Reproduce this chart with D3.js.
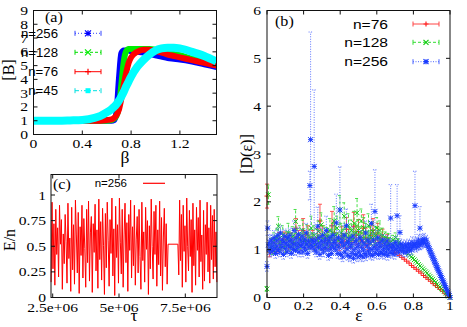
<!DOCTYPE html>
<html>
<head>
<meta charset="utf-8">
<script src="https://cdn.jsdelivr.net/npm/d3@7"></script>
<style>
body { margin: 0; background: #fff; }
</style>
</head>
<body>
<svg id="viz" width="467" height="327"></svg>
<script>
// ---------- panel (a): [B] vs beta ----------
let beta = [0, 0.1, 0.2, 0.3, 0.4, 0.5, 0.55, 0.6, 0.64, 0.66, 0.68, 0.7, 0.72, 0.74, 0.76, 0.78, 0.8, 0.85, 0.9, 0.95, 1.0, 1.05, 1.1, 1.15, 1.2, 1.3, 1.4, 1.5];
let B_256 = [1, 1, 1, 1, 1, 1, 1, 1, 1, 1.05, 1.6, 4.0, 5.9, 6.1, 6.1, 6.1, 6.05, 6.0, 5.95, 5.85, 5.75, 5.65, 5.55, 5.5, 5.45, 5.3, 5.1, 4.9];
let B_128 = [1, 1, 1, 1, 1, 1, 1, 1, 1.05, 1.15, 1.35, 2.0, 3.6, 5.3, 6.05, 6.2, 6.2, 6.2, 6.2, 6.2, 6.15, 6.05, 5.95, 5.85, 5.75, 5.5, 5.3, 5.05];
let B_76 = [1, 1, 1, 1, 1, 1, 1, 1.05, 1.1, 1.2, 1.4, 1.8, 2.6, 3.6, 4.5, 5.2, 5.6, 6.0, 6.15, 6.15, 6.05, 5.95, 5.8, 5.7, 5.6, 5.4, 5.2, 5.0];
let B_45 = [1, 1, 1, 1.02, 1.05, 1.2, 1.35, 1.6, 1.85, 2.0, 2.2, 2.45, 2.75, 3.1, 3.5, 3.85, 4.2, 4.9, 5.4, 5.8, 6.1, 6.25, 6.3, 6.3, 6.25, 6.0, 5.7, 5.3];
let a_xticks = [0, 0.4, 0.8, 1.2];
let a_yticks = [0, 1, 2, 3, 4, 5, 6, 7, 8, 9];

// ---------- panel (b): [D(eps)] vs eps, points at k/n ----------
let D_76 = [2.12, 0.95,
    1.08, 1.12, 1.05, 1.18, 1.1, 1.22, 1.15, 1.08, 1.2, 1.12,
    1.45, 1.25, 1.1, 1.4, 1.18, 1.3, 1.15, 1.22, 1.08, 1.25,
    1.6, 1.3, 1.15, 1.2, 1.12, 1.5, 1.35, 1.2, 1.1, 1.28,
    1.18, 1.42, 1.25, 1.15, 1.48, 1.3, 1.38, 1.2, 1.45, 1.25,
    1.12, 1.3, 1.4, 1.2, 1.35, 1.18, 1.25, 1.15, 1.2, 1.1,
    1.05,
    .97, .93, .88, .84, .80, .76, .72, .67, .63, .59, .55, .51,
    .46, .42, .38, .34, .29, .25, .21, .17, .13, .08, .04, 0];
let D_76_err = [.25, .1,
    .15, .12, .1, .18, .12, .15, .2, .1, .15, .12,
    .2, .15, .12, .25, .15, .2, .12, .18, .1, .2,
    .35, .2, .15, .18, .12, .3, .22, .15, .12, .2,
    .15, .25, .18, .12, .3, .2, .25, .15, .28, .2,
    .12, .2, .25, .15, .2, .12, .18, .1, .12, .08,
    .06,
    .05, .04, .04, .04, .03, .03, .03, .03, .03, .03, .03, .03,
    .03, .03, .03, .03, .03, .03, .03, .03, .03, .03, .03, 0];
let D_128 = [0.18, 2.15, 1.05, 1.12, 1.0, 1.2, 1.1, 1.25, 1.49, 1.15, 1.08, 1.3, 1.18, 1.05, 1.22, 1.35,
    1.1, 1.2, 1.28, 1.15, 1.59, 1.25, 1.12, 1.3, 1.18, 1.4, 1.2, 1.1, 1.32, 1.15, 1.25, 1.45,
    1.2, 1.3, 1.1, 1.25, 1.38, 1.15, 1.52, 1.22, 1.3, 1.12, 1.28, 1.2, 1.4, 1.25, 1.35, 1.6,
    1.3, 1.45, 1.2, 1.83, 1.35, 1.25, 1.7, 1.3, 1.18, 1.5, 1.28, 1.4, 1.22, 1.55, 1.35, 1.77,
    1.4, 1.3, 1.6, 1.25, 1.45, 1.35, 1.2, 1.5, 1.3, 1.25, 1.38, 1.2, 1.3, 1.45, 1.25, 1.4,
    1.2, 1.3, 1.15, 1.25, 1.1, 1.22, 1.15, 1.05, 1.2, 1.12, 1.25, 1.08, 1.15, 1.1, 1.05, 1.03,
    1.01, .98, .95, .92, .88, .85, .82, .79, .76, .73, .69, .66, .63, .60, .57, .54,
    .51, .47, .44, .41, .38, .35, .32, .28, .25, .22, .19, .16, .13, .09, .06, .03,
    0];
let D_128_err = [.05, .2, .1, .12, .1, .15, .12, .18, .2, .12, .1, .2, .15, .1, .15, .2,
    .12, .15, .2, .12, .25, .18, .12, .2, .15, .22, .15, .12, .2, .15, .18, .25,
    .15, .2, .12, .18, .22, .15, .25, .15, .2, .12, .18, .15, .25, .18, .2, .3,
    .2, .25, .15, .3, .2, .18, .28, .2, .15, .25, .18, .22, .15, .25, .2, .3,
    .22, .18, .25, .15, .22, .2, .15, .25, .18, .15, .2, .12, .18, .22, .15, .2,
    .12, .15, .1, .12, .1, .12, .1, .08, .1, .08, .1, .06, .08, .06, .05, .05,
    .04, .04, .04, .04, .04, .04, .04, .04, .04, .04, .04, .04, .04, .04, .04, .04,
    .03, .03, .03, .03, .03, .03, .03, .03, .03, .03, .03, .03, .03, .03, .03, .03,
    0];
let D_256 = [0.65, 1.45, 1.1, 1.0, 1.15, 0.95, 1.2, 1.05, 0.98, 1.12, 1.25, 1.02, 0.92, 1.18, 1.08, 1.3,
    1.0, 1.22, 0.95, 1.35, 1.1, 1.05, 1.2, 0.9, 1.15, 1.28, 1.02, 1.12, 0.95, 1.25, 1.08, 1.18,
    1.3, 1.05, 0.92, 1.2, 1.12, 1.0, 1.4, 1.1, 0.98, 1.25, 1.15, 1.05, 1.32, 0.95, 1.1, 1.2,
    1.08, 1.28, 0.95, 1.15, 1.05, 1.22, 1.0, 1.35, 1.12, 0.92, 1.18, 1.05, 2.34, 3.3, 1.1, 1.2,
    1.05, 1.15, 2.74, 1.0, 1.2, 0.95, 1.12, 1.49, 1.05, 1.25, 0.9, 1.1, 1.18, 1.02, 1.3, 0.95,
    1.15, 1.05, 1.22, 1.4, 1.0, 1.12, 0.88, 1.18, 1.25, 1.02, 0.92, 1.1, 1.3, 1.05, 1.15, 1.2,
    1.0, 1.56, 1.1, 0.92, 1.25, 1.05, 1.83, 0.9, 1.15, 1.2, 0.85, 1.08, 1.3, 0.95, 1.12, 1.5,
    1.02, 0.88, 1.15, 1.22, 0.85, 1.05, 1.1, 0.92, 1.28, 0.82, 1.0, 1.15, 0.9, 1.2, 1.05, 0.85,
    1.1, 0.95, 1.25, 0.88, 1.05, 1.18, 0.85, 1.0, 1.12, 0.92, 1.35, 0.87, 1.08, 1.2, 0.95, 1.02,
    1.15, 0.9, 1.55, 1.0, 0.88, 1.2, 1.05, 1.8, 0.92, 1.1, 1.0, 1.25, 0.9, 1.05, 1.15, 0.95,
    1.08, 0.92, 1.2, 1.0, 0.9, 1.12, 1.05, 0.95, 1.18, 0.88, 1.02, 1.1, 0.95, 1.66, 1.05, 0.92,
    1.1, 0.98, 1.05, 0.9, 1.15, 1.0, 1.71, 1.08, 0.95, 1.02, 1.36, 1.12, 0.98, 1.05, 1.1, 0.95,
    1.05, 1.0, 1.1, 0.95, 1.08, 1.02, 1.12, 0.98, 1.05, 1.1, 1.0, 1.15, 1.05, 1.08, 1.12, 1.92,
    1.1, 1.05, 1.15, 1.08, 1.2, 1.12, 1.45, 1.1, 1.18, 1.12, 1.2, 1.15, 1.22, 1.18, 1.15, 1.2,
    1.12, 1.09, 1.05, 1.02, 0.98, 0.95, 0.91, 0.88, 0.84, 0.81, 0.77, 0.74, 0.70, 0.67, 0.63, 0.60,
    0.56, 0.53, 0.49, 0.46, 0.42, 0.39, 0.35, 0.32, 0.28, 0.25, 0.21, 0.18, 0.14, 0.11, 0.07, 0.04,
    0];
let D_256_err = [.1, .15, .12, .1, .15, .1, .12, .1, .1, .12, .15, .1, .1, .12, .1, .15,
    .1, .12, .1, .15, .12, .1, .12, .1, .12, .15, .1, .12, .1, .15, .1, .12,
    .15, .1, .1, .12, .12, .1, .2, .12, .1, .15, .12, .1, .15, .1, .12, .15,
    .1, .15, .1, .12, .1, .15, .1, .2, .12, .1, .12, .1, .3, 2.25, .12, .15,
    .1, .12, 1.6, .1, .15, .1, .12, .4, .1, .15, .1, .12, .12, .1, .15, .1,
    .12, .1, .15, .3, .1, .12, .1, .12, .15, .1, .1, .12, .2, .1, .12, .15,
    .1, .6, .12, .1, .15, .1, .9, .1, .12, .15, .1, .12, .2, .1, .12, .35,
    .1, .1, .12, .15, .1, .1, .12, .1, .2, .1, .1, .12, .1, .15, .1, .1,
    .12, .1, .15, .1, .1, .12, .1, .1, .12, .1, .25, .1, .1, .15, .1, .1,
    .12, .1, .4, .1, .1, .15, .1, .87, .1, .12, .1, .15, .1, .1, .12, .1,
    .1, .1, .12, .1, .1, .12, .1, .1, .12, .1, .1, .12, .1, .7, .1, .1,
    .1, .1, .1, .1, .12, .1, .65, .1, .1, .1, .35, .1, .1, .1, .1, .1,
    .1, .1, .1, .1, .1, .1, .1, .1, .1, .1, .1, .12, .1, .1, .12, .72,
    .1, .1, .12, .1, .12, .1, .45, .1, .12, .1, .12, .1, .12, .1, .1, .1,
    .06, .06, .06, .06, .06, .06, .06, .06, .06, .06, .06, .06, .06, .06, .06, .06,
    .04, .04, .04, .04, .04, .04, .04, .04, .04, .04, .04, .04, .04, .04, .04, .04,
    0];
let b_xticks = [0, 0.2, 0.4, 0.6, 0.8, 1];
let b_yticks = [0, 1, 2, 3, 4, 5, 6];

// ---------- panel (c): E/n vs tau (n=256) ----------
let tauA = [2.44e6, 6.85e6];
let En_A = [0.15, 0.93, 0.28, 0.72, 0.12, 0.86, 0.42, 0.68, 0.2, 0.9, 0.52, 0.76, 0.08, 0.62, 0.33, 0.81,
    0.55, 0.14, 0.92, 0.38, 0.58, 0.06, 0.88, 0.27, 0.71, 0.13, 0.95, 0.61, 0.24, 0.83, 0.04, 0.69,
    0.41, 0.9, 0.19, 0.77, 0.48, 0.1, 0.86, 0.34, 0.94, 0.16, 0.63, 0.79, 0.05, 0.72, 0.44, 0.91,
    0.26, 0.66, 0.09, 0.96, 0.37, 0.74, 0.17, 0.87, 0.51, 0.03, 0.82, 0.29, 0.93, 0.56, 0.11, 0.76,
    0.43, 0.97, 0.21, 0.67, 0.02, 0.89, 0.39, 0.71, 0.14, 0.97, 0.54, 0.23, 0.86, 0.1, 0.61, 0.92,
    0.34, 0.73, 0.06, 0.81, 0.46, 0.95, 0.19, 0.69, 0.31, 0.9, 0.12, 0.57, 0.79, 0.24, 0.86, 0.4,
    0.08, 0.93, 0.36, 0.64, 0.15, 0.88, 0.47, 0.75, 0.03, 0.7, 0.28, 0.96, 0.5, 0.18, 0.84, 0.42,
    0.9, 0.11, 0.66, 0.32, 0.94, 0.21, 0.78, 0.07, 0.59, 0.87, 0.3, 0.72, 0.13, 0.52];
let tauB = [7.22e6, 8.69e6];
let En_B = [0.52, 0.22, 0.95, 0.36, 0.81, 0.1, 0.9, 0.45, 0.7, 0.15, 0.97, 0.5, 0.26, 0.85, 0.4, 0.76,
    0.05, 0.92, 0.31, 0.66, 0.12, 0.88, 0.46, 0.78, 0.2, 0.95, 0.35, 0.61, 0.08, 0.85, 0.16, 0.71,
    0.42, 0.93, 0.25, 0.68, 0.14, 0.9, 0.37, 0.8, 0.18, 0.86, 0.3, 0.64, 0.15];
let c_xticks = [2.5e6, 5e6, 7.5e6];
let c_xlabels = ["2.5e+06", "5e+06", "7.5e+06"];
let c_yticks = [0, 0.25, 0.5, 0.75, 1];
let c_ylabels = ["0", "0.25", "0.5", "0.75", "1"];

const serif = '"Liberation Serif", "Times New Roman", serif';
const sans = '"Liberation Sans", Arial, sans-serif';

const svg = d3.select("#viz");

window.onload = function () {
    panel_a()
    panel_b()
    panel_c()
}

// text helper, the picture is stretched a bit sideways
function txt(g, x, y, s, o) {
    o = o || {};
    let tr = "translate(" + x + "," + y + ")";
    if (o.rot) tr += " rotate(-90)";
    tr += " scale(" + (o.sx || 1) + ",1)";
    return g.append("text")
        .attr("transform", tr)
        .attr("text-anchor", o.anchor || "middle")
        .style("font-family", o.sans ? sans : serif)
        .style("font-size", (o.size || 13) + "px")
        .attr("fill", "#000")
        .text(s);
}

// border with mirrored inward ticks, gnuplot style
function frame(g, x, y, xticks, yticks, xlab, ylab, opt) {
    let [x0, x1] = x.range(), [y0, y1] = y.range();
    let tl = 4;
    g.append("rect")
        .attr("x", x0).attr("y", y1)
        .attr("width", x1 - x0).attr("height", y0 - y1)
        .attr("fill", "none").attr("stroke", "#111").attr("stroke-width", 1);
    xticks.forEach(function (t, i) {
        let px = x(t);
        g.append("path").attr("d", "M" + px + "," + y0 + "v" + (-tl) + "M" + px + "," + y1 + "v" + tl)
            .attr("stroke", "#111");
        txt(g, px, opt.xLabelY, xlab[i], {sx: opt.sx});
    });
    yticks.forEach(function (t, i) {
        let py = y(t);
        g.append("path").attr("d", "M" + x0 + "," + py + "h" + tl + "M" + x1 + "," + py + "h" + (-tl))
            .attr("stroke", "#111");
        txt(g, opt.yLabelX, py + 4.5, ylab[i], {anchor: "end", sx: opt.sx});
    });
}

function marker(g, type, px, py, s, color, sw) {
    let d = "";
    if (type === "+" || type === "*") d += "M" + (px - s) + "," + py + "h" + (2 * s) + "M" + px + "," + (py - s) + "v" + (2 * s);
    if (type === "x" || type === "*") d += "M" + (px - s) + "," + (py - s) + "l" + (2 * s) + "," + (2 * s) + "M" + (px - s) + "," + (py + s) + "l" + (2 * s) + "," + (-2 * s);
    if (type === "sq") {
        g.append("rect").attr("x", px - s).attr("y", py - s).attr("width", 2 * s).attr("height", 2 * s).attr("fill", color);
        return;
    }
    g.append("path").attr("d", d).attr("stroke", color).attr("stroke-width", sw || 1).attr("fill", "none");
}

// horizontal error bar legend sample
function legend_sample(g, x0, x1, y, st) {
    g.append("path").attr("d", "M" + x0 + "," + y + "H" + x1)
        .attr("stroke", st.bar).attr("stroke-dasharray", st.dash).attr("stroke-width", 1);
    g.append("path").attr("d", "M" + x0 + "," + (y - 2.5) + "v5M" + x1 + "," + (y - 2.5) + "v5")
        .attr("stroke", st.bar);
    marker(g, st.mark, (x0 + x1) / 2, y, st.ms, st.color, 1.2);
}

function panel_a() {
    let g = svg.append("g");
    let x = d3.scaleLinear().domain([0, 1.5]).range([33.5, 216.5]);
    let y = d3.scaleLinear().domain([0, 9]).range([134.5, 10.5]);

    let series = [
        {name: "n=256", vals: B_256, color: "#0000ff", w: 6, mark: "*", dash: "1,2", bar: "#3344ff", ms: 3},
        {name: "n=128", vals: B_128, color: "#00ee00", w: 6, mark: "x", dash: "3,2", bar: "#00dd00", ms: 3},
        {name: "n=76", vals: B_76, color: "#ff0000", w: 6, mark: "+", dash: null, bar: "#ff0000", ms: 3},
        {name: "n=45", vals: B_45, color: "#00ffff", w: 8, mark: "sq", dash: "4,2,1,2", bar: "#00e0e0", ms: 2.5}
    ];

    let line = d3.line()
        .x((d, i) => x(beta[i]))
        .y(d => y(d))
        .curve(d3.curveMonotoneX);

    g.append("clipPath").attr("id", "clipa").append("rect")
        .attr("x", 33.5).attr("y", 10.5).attr("width", 183).attr("height", 124);

    series.forEach(function (s) {
        g.append("path")
            .attr("d", line(s.vals))
            .attr("fill", "none")
            .attr("stroke", s.color)
            .attr("stroke-width", s.w)
            .attr("stroke-linejoin", "round")
            .attr("clip-path", "url(#clipa)");
    });

    frame(g, x, y, a_xticks, a_yticks, a_xticks.map(String), a_yticks.map(String),
        {xLabelY: 148, yLabelX: 28, sx: 1.2});

    // legend
    let ly = [33.3, 52.3, 71.7, 90.7];
    series.forEach(function (s, i) {
        txt(g, 58, ly[i] + 4.3, s.name, {anchor: "end", sans: true, size: 12, sx: 1.1});
        legend_sample(g, 75, 101, ly[i], s);
    });

    txt(g, 45, 22, "(a)", {anchor: "start", size: 14, sx: 1.15});
    txt(g, 125, 163, "\u03b2", {size: 16, sx: 1.1});
    txt(g, 14, 70, "[B]", {rot: true, size: 16});
}

function panel_b() {
    let g = svg.append("g");
    let x = d3.scaleLinear().domain([0, 1]).range([267, 450]);
    let y = d3.scaleLinear().domain([0, 6]).range([297.5, 10.5]);

    let series = [
        {name: "n=76", vals: D_76, err: D_76_err, color: "#ff2222", bar: "#ff4444", dash: null, mark: "+", ms: 2.5},
        {name: "n=128", vals: D_128, err: D_128_err, color: "#11cc11", bar: "#33dd33", dash: "3,2", mark: "x", ms: 2.3},
        {name: "n=256", vals: D_256, err: D_256_err, color: "#1a3cff", bar: "#4d66ff", dash: "1,1.5", mark: "*", ms: 2.5}
    ];

    g.append("clipPath").attr("id", "clipb").append("rect")
        .attr("x", 262).attr("y", 10.5).attr("width", 193).attr("height", 290);
    let body = g.append("g").attr("clip-path", "url(#clipb)");

    series.forEach(function (s) {
        let n = s.vals.length - 1;
        s.vals.forEach(function (v, k) {
            let px = x(k / n);
            let e = s.err[k];
            if (e > 0.04) {
                body.append("path")
                    .attr("d", "M" + px + "," + y(v - e) + "V" + y(v + e) +
                        "M" + (px - 2) + "," + y(v - e) + "h4M" + (px - 2) + "," + y(v + e) + "h4")
                    .attr("stroke", s.bar).attr("stroke-width", 0.9)
                    .attr("stroke-dasharray", s.dash).attr("fill", "none");
            }
            marker(body, s.mark, px, y(v), s.ms, s.color, 1);
        });
    });

    frame(g, x, y, b_xticks, b_yticks, b_xticks.map(String), b_yticks.map(String),
        {xLabelY: 310, yLabelX: 261, sx: 1.2});

    let ly = [24, 42.3, 61.7];
    series.forEach(function (s, i) {
        txt(g, 388, ly[i] + 4.5, s.name, {anchor: "end", sans: true, size: 13, sx: 1.2});
        legend_sample(g, 413, 439, ly[i], {bar: s.bar, dash: s.dash, mark: s.mark, ms: 2.5, color: s.color});
    });

    txt(g, 275, 26, "(b)", {anchor: "start", size: 14, sx: 1.15});
    txt(g, 359, 321, "\u03b5", {size: 16, sx: 1.1});
    txt(g, 252, 154, "[D(\u03b5)]", {rot: true, size: 16});
}

function panel_c() {
    let g = svg.append("g");
    let x = d3.scaleLinear().domain([2.436e6, 8.695e6]).range([51, 217]);
    let y = d3.scaleLinear().domain([0, 1.2]).range([297.5, 174.5]);

    let ta = d3.scaleLinear().domain([0, En_A.length - 1]).range(tauA);
    let tb = d3.scaleLinear().domain([0, En_B.length - 1]).range(tauB);
    let pts = En_A.map((v, i) => [ta(i), v]).concat(En_B.map((v, i) => [tb(i), v]));

    let line = d3.line().x(d => x(d[0])).y(d => y(d[1]));
    g.append("path")
        .attr("d", line(pts))
        .attr("fill", "none")
        .attr("stroke", "#ff0000")
        .attr("stroke-width", 1);

    frame(g, x, y, c_xticks, c_yticks, c_xlabels, c_ylabels,
        {xLabelY: 312, yLabelX: 46, sx: 1.2});

    txt(g, 127, 187, "n=256", {anchor: "end", sans: true, size: 11.5});
    g.append("path").attr("d", "M143,183.3H165").attr("stroke", "#ff0000").attr("stroke-width", 1.2);

    txt(g, 53, 189, "(c)", {anchor: "start", size: 14, sx: 1.15});
    txt(g, 134, 321, "\u03c4", {size: 16, sx: 1.1});
    txt(g, 15, 240, "E/n", {rot: true, size: 16});
}
</script>
</body>
</html>
